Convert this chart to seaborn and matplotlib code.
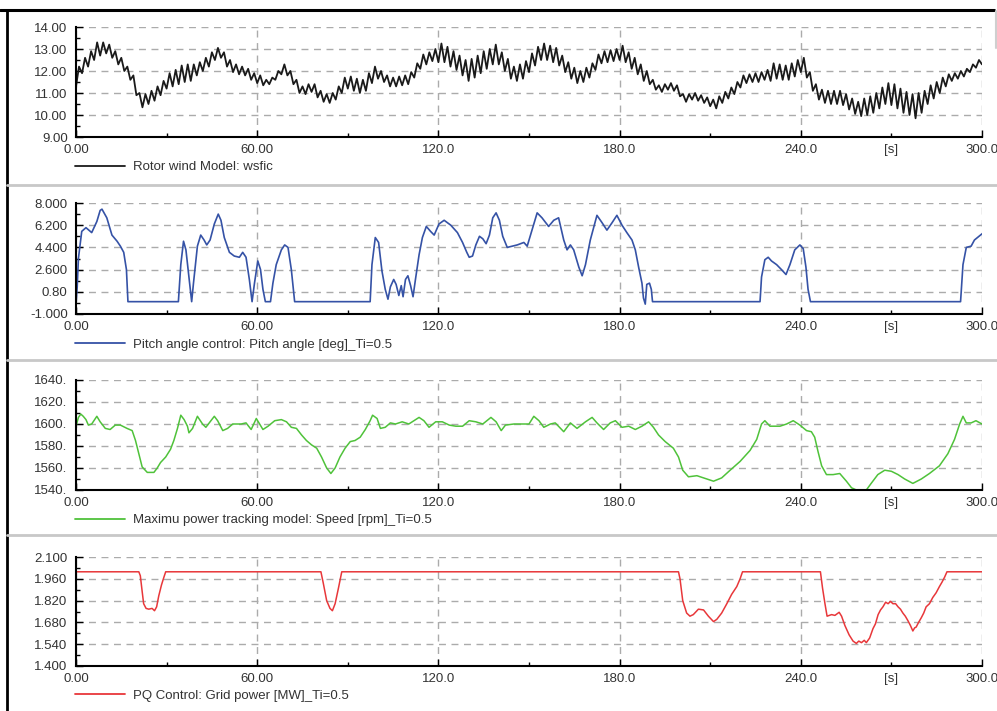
import numpy as np
import pandas as pd
import matplotlib
matplotlib.use("Agg")
import matplotlib.pyplot as plt
import seaborn as sns
from matplotlib.lines import Line2D
from matplotlib.ticker import FixedLocator, FixedFormatter

W, H = 997, 711
sns.set_theme(style="white")
plt.rcParams["font.family"] = ["Liberation Sans", "DejaVu Sans"]

# ---------------- data ----------------
x_ticks = [0, 60, 120, 180, 240, 300]
x_ticklabels = ["0.00", "60.00", "120.0", "180.0", "240.0", "300.0"]
x_minor = [30, 90, 150, 210, 270]
x_minor_labels = ["", "", "", "", "[s]"]

wind_t = np.arange(0, 301, 1)
wind_v = [
    11.3, 12.2, 11.9, 12.6, 12.2, 12.9, 12.5, 13.3, 12.7, 13.3,
    12.8, 13.2, 12.6, 12.9, 12.3, 12.6, 12.0, 12.2, 11.6, 11.8,
    10.9, 11.0, 10.35, 10.95, 10.5, 11.1, 10.65, 11.3, 10.9, 11.55,
    11.2, 11.9, 11.3, 12.05, 11.4, 12.25, 11.5, 12.3, 11.55, 12.3,
    11.8, 12.4, 12.0, 12.6, 12.2, 12.85, 12.5, 13.05, 12.6, 12.85,
    12.2, 12.5, 11.95, 12.3, 11.85, 12.2, 11.8, 12.1, 11.6, 11.9,
    11.45, 11.8, 11.35, 11.6, 11.4, 11.7, 11.6, 12.0, 11.85, 12.3,
    11.8, 12.0, 11.4, 11.6, 11.0, 11.3, 10.95, 11.4, 11.05, 11.4,
    10.8, 11.1, 10.6, 10.95, 10.55, 11.0, 10.7, 11.3, 11.0, 11.7,
    11.2, 11.75, 11.1, 11.65, 11.0, 11.6, 11.1, 11.9, 11.45, 12.2,
    11.65, 12.0, 11.5, 11.8, 11.3, 11.7, 11.3, 11.75, 11.35, 11.8,
    11.4, 11.95, 11.7, 12.35, 12.1, 12.75, 12.3, 12.85, 12.45, 13.0,
    12.4, 13.25, 12.4, 13.1, 12.2, 12.9, 12.05, 12.7, 11.8, 12.5,
    11.55, 12.55, 11.7, 12.7, 11.9, 12.9, 12.1, 13.0, 12.3, 13.2,
    12.3, 12.85, 12.0, 12.55, 11.65, 12.2, 11.55, 12.3, 11.65, 12.45,
    11.95, 12.8, 12.25, 13.1, 12.5, 13.25, 12.5, 13.15, 12.4, 13.05,
    12.25, 12.7, 11.95, 12.4, 11.65, 12.15, 11.45, 12.0, 11.5, 12.15,
    11.7, 12.35, 12.05, 12.75, 12.35, 12.9, 12.4, 12.95, 12.45, 13.0,
    12.5, 13.15, 12.4, 12.85, 12.1, 12.6, 11.85, 12.3, 11.55, 12.0,
    11.4, 11.6, 11.15, 11.35, 11.05, 11.4, 11.15, 11.45, 11.1, 11.35,
    10.85, 10.95, 10.6, 10.95, 10.7, 11.0, 10.65, 10.9, 10.55, 10.8,
    10.4, 10.7, 10.3, 10.85, 10.55, 11.05, 10.75, 11.25, 10.95, 11.5,
    11.25, 11.8, 11.45, 11.85, 11.5, 11.9, 11.5, 11.95, 11.6, 12.05,
    11.55, 12.35, 11.65, 12.3, 11.6, 12.25, 11.6, 12.35, 11.75, 12.5,
    11.95, 12.6, 11.7, 11.95, 11.1, 11.4, 10.7, 11.15, 10.55, 11.1,
    10.5, 11.1, 10.5, 11.1, 10.45, 10.95, 10.25, 10.75, 10.05, 10.6,
    9.95, 10.75, 10.0, 10.85, 10.1, 11.0, 10.3, 11.25, 10.5, 11.45,
    10.45, 11.4, 10.3, 11.2, 10.1, 11.05, 10.0, 10.95, 9.85, 11.0,
    10.1, 11.1, 10.5, 11.35, 10.75, 11.5, 11.0, 11.7, 11.3, 11.85,
    11.55, 11.9, 11.65, 12.0, 11.75, 12.1, 11.95, 12.3, 12.15, 12.5,
    12.3,
]
wind_yticks = [9, 10, 11, 12, 13, 14]
wind_yticklabels = ["9.00", "10.00", "11.00", "12.00", "13.00", "14.00"]

pitch_t = [
    0, 0.4, 0.8, 1.9, 3.3, 5.2, 6.9, 8.0, 8.6, 10.2, 11.9, 13.6, 14.7, 15.8, 16.7, 17.2,
    33.9, 34.7, 35.6, 36.4, 37.4, 38.3, 38.9, 40.2, 41.3, 42.4, 43.3, 44.4, 45.8, 47.1,
    48.0, 49.1, 50.8, 52.4, 54.1, 55.2, 56.3, 57.4, 58.3, 59.1, 60.2, 61.1, 61.9, 62.7,
    64.4, 65.2, 66.3, 68.0, 69.1, 70.2, 71.3, 72.4,
    97.4, 98.0, 99.1, 100.2, 101.3, 102.4, 103.3, 104.1, 105.2, 106.0, 106.9, 107.7,
    108.3, 109.1, 109.9, 110.8, 111.6, 112.4, 113.6, 114.7, 116.0, 117.4, 118.6, 120.2,
    121.9, 124.1, 126.3, 128.0, 129.4, 130.2, 131.3, 132.4, 133.6, 134.7, 135.8, 136.9,
    138.0, 139.1, 140.2, 141.3, 142.8, 144.4, 146.1, 148.3, 149.4, 151.0, 152.7, 154.3,
    156.5, 158.2, 159.8, 161.5, 162.6, 163.7, 164.8, 166.5, 167.6, 168.7, 170.3, 172.5,
    174.2, 175.8, 177.5, 179.1, 180.8, 182.4, 184.1, 185.2, 186.3, 187.4, 187.9, 188.5,
    189.0, 189.9, 190.5, 190.9,
    226.5, 227.0, 228.1, 229.2, 230.3, 232.0, 233.6, 235.1, 236.4, 238.0, 239.7, 240.8,
    241.7, 242.4, 243.2,
    292.9, 293.7, 294.8, 296.4, 297.5, 300.0,
]
pitch_v = [
    -0.2, 1.2, 3.5, 5.7, 6.0, 5.6, 6.5, 7.4, 7.5, 6.8, 5.4, 4.9, 4.5, 4.0, 2.6, 0.0,
    0.0, 3.0, 4.9, 4.2, 2.0, 0.0, 1.5, 4.5, 5.4, 5.0, 4.6, 5.0, 6.3, 7.1,
    6.6, 5.2, 4.0, 3.7, 3.6, 4.0, 3.6, 1.8, 0.0, 1.5, 3.3, 2.6, 1.0, 0.0,
    0.0, 1.5, 3.0, 4.2, 4.6, 4.4, 2.6, 0.0,
    0.0, 3.0, 5.2, 4.8, 2.5, 1.0, 0.2, 1.2, 1.8, 1.4, 0.5, 1.3,
    0.4, 1.8, 2.1, 1.3, 0.4, 1.8, 3.8, 5.2, 6.1, 5.7, 5.4, 6.3,
    6.6, 6.2, 5.6, 4.8, 4.0, 3.6, 3.7, 4.6, 5.3, 5.1, 4.7, 5.4,
    6.8, 7.2, 6.6, 5.3, 4.4, 4.5, 4.6, 4.8, 4.5, 5.8, 7.2, 6.8,
    6.1, 6.6, 6.8, 5.0, 4.2, 4.6, 4.2, 2.8, 2.1, 3.0, 5.0, 7.0,
    6.4, 5.8, 6.4, 7.0, 6.2, 5.6, 5.0, 4.2, 2.8, 1.5, 0.3, -0.2,
    1.4, 1.5, 1.0, 0.0,
    0.0, 2.0, 3.4, 3.6, 3.3, 3.0, 2.6, 2.2, 3.0, 4.2, 4.6, 4.3,
    2.8, 1.0, 0.0,
    0.0, 3.0, 4.4, 4.5, 5.0, 5.5,
]
pitch_yticks = [-1.0, 0.8, 2.6, 4.4, 6.2, 8.0]
pitch_yticklabels = ["-1.000", "0.80", "2.600", "4.400", "6.200", "8.000"]

speed_t = [
    0, 0.8, 1.6, 2.4, 3.3, 4.1, 5.2, 6.9, 8.0, 9.7, 11.3, 13.0, 14.7, 16.9, 18.6, 19.7,
    20.8, 21.9, 23.6, 25.8, 26.9, 28.0, 29.7, 31.3, 32.4, 33.6, 34.7, 35.8, 36.9, 37.4,
    38.6, 40.2, 41.9, 43.0, 44.4, 45.8, 46.9, 48.6, 50.2, 51.9, 54.7, 56.3, 58.0, 59.7,
    60.8, 61.9, 63.6, 65.8, 68.0, 69.7, 71.3, 73.0, 74.7, 76.3, 78.0, 79.7, 81.3, 83.0,
    84.4, 85.8, 87.4, 89.1, 90.8, 92.4, 94.1, 95.8, 97.4, 98.2, 99.7, 100.8, 102.4, 104.1,
    105.8, 108.0, 110.2, 111.9, 113.6, 115.2, 116.9, 119.1, 121.3, 123.6, 125.8, 128.0,
    130.2, 132.4, 134.7, 137.4, 139.1, 140.8, 142.2, 145.0, 148.3, 150.0, 151.6, 153.3,
    154.9, 157.1, 158.7, 161.5, 163.7, 165.9, 168.7, 170.9, 172.5, 174.7, 176.9, 178.6,
    180.8, 183.0, 185.2, 187.4, 189.6, 191.2, 192.9, 195.1, 197.8, 199.5, 200.9, 202.8,
    205.6, 207.8, 211.1, 213.8, 216.6, 219.9, 223.2, 225.4, 227.0, 228.1, 229.8, 233.1,
    235.3, 237.5, 239.7, 241.9, 243.5, 244.6, 245.7, 246.9, 248.5, 250.7, 252.9, 255.1,
    256.8, 258.4, 261.7, 263.3, 265.5, 267.8, 270.0, 272.2, 274.4, 277.1, 279.9, 282.6,
    285.9, 288.7, 290.9, 292.6, 293.7, 294.8, 296.4, 298.0, 300.0,
]
speed_v = [
    1598, 1606, 1609, 1607, 1604, 1599, 1600, 1607, 1602, 1596, 1595, 1599, 1599, 1596, 1594, 1585,
    1573, 1561, 1556, 1556, 1560, 1565, 1570, 1577, 1585, 1596, 1608, 1604, 1598, 1592,
    1596, 1607, 1600, 1597, 1602, 1607, 1603, 1594, 1596, 1600, 1600, 1601, 1595, 1605,
    1600, 1595, 1598, 1603, 1604, 1602, 1597, 1596, 1590, 1585, 1581, 1578, 1570, 1560,
    1555, 1560, 1570, 1578, 1584, 1585, 1588, 1595, 1603, 1608, 1605, 1596, 1597, 1601,
    1600, 1602, 1600, 1603, 1606, 1603, 1597, 1602, 1602, 1599, 1598, 1598,
    1603, 1602, 1600, 1606, 1602, 1594, 1599, 1600, 1600, 1600, 1607, 1603,
    1597, 1600, 1601, 1593, 1601, 1596, 1602, 1606, 1601, 1595, 1601, 1603,
    1597, 1598, 1595, 1598, 1602, 1597, 1590, 1584, 1578, 1570, 1558, 1552,
    1553, 1551, 1548, 1551, 1558, 1566, 1576, 1586, 1600, 1603, 1598, 1598,
    1600, 1603, 1599, 1594, 1593, 1588, 1575, 1562, 1554, 1554, 1555, 1548,
    1542, 1540, 1540, 1546, 1554, 1558, 1557, 1554, 1550, 1546, 1550, 1555,
    1562, 1573, 1586, 1600, 1607, 1601, 1601, 1603, 1600,
]
speed_yticks = [1540, 1560, 1580, 1600, 1620, 1640]
speed_yticklabels = ["1540.", "1560.", "1580.", "1600.", "1620.", "1640."]

power_t = [
    0, 20.8, 21.3, 21.9, 22.4, 23.2, 24.1, 25.2, 26.0, 26.7, 27.4, 28.3, 29.1, 29.7,
    81.1, 81.9, 83.0, 84.1, 84.9, 85.8, 86.9, 88.0,
    199.5, 200.0, 200.9, 202.2, 203.3, 204.4, 206.1, 207.8, 209.4, 211.1, 212.2, 213.8,
    215.5, 217.1, 218.8, 219.9, 220.7,
    246.5, 247.2, 248.0, 248.7, 250.2, 251.3, 252.7, 253.5, 254.6, 256.0, 257.3, 258.4,
    259.2, 260.1, 261.0, 261.7, 262.8, 263.9, 264.7, 265.6, 266.4, 267.2, 268.1, 268.9,
    269.7, 270.5, 271.4, 272.2, 273.0, 273.8, 274.6, 275.5, 276.3, 277.1, 277.7, 278.2,
    279.0, 279.9, 280.7, 281.5, 282.6, 283.7, 284.8, 285.9, 286.8, 287.6, 288.4, 300.0,
]
power_v = [
    2.005, 2.005, 1.98, 1.88, 1.80, 1.77, 1.765, 1.77, 1.755, 1.78, 1.85, 1.92, 1.97, 2.005,
    2.005, 1.93, 1.82, 1.77, 1.755, 1.80, 1.90, 2.005,
    2.005, 1.96, 1.82, 1.74, 1.72, 1.73, 1.765, 1.76, 1.72, 1.685, 1.70, 1.74,
    1.80, 1.86, 1.91, 1.96, 2.005,
    2.005, 1.90, 1.80, 1.72, 1.73, 1.725, 1.745, 1.72, 1.66, 1.60, 1.56, 1.545,
    1.56, 1.55, 1.565, 1.55, 1.58, 1.64, 1.67, 1.73, 1.76, 1.78, 1.81, 1.80,
    1.815, 1.80, 1.80, 1.78, 1.765, 1.74, 1.72, 1.69, 1.66, 1.625, 1.645, 1.65,
    1.68, 1.71, 1.74, 1.78, 1.80, 1.84, 1.87, 1.91, 1.94, 1.97, 2.005, 2.005,
]
power_yticks = [1.4, 1.54, 1.68, 1.82, 1.96, 2.1]
power_yticklabels = ["1.400", "1.540", "1.680", "1.820", "1.960", "2.100"]

labels = [
    "Rotor wind Model: wsfic",
    "Pitch angle control: Pitch angle [deg]_Ti=0.5",
    "Maximu power tracking model: Speed [rpm]_Ti=0.5",
    "PQ Control: Grid power [MW]_Ti=0.5",
]
colors = ["#1a1a1a", "#3552a6", "#4fc23a", "#e8373a"]

assert len(wind_v) == len(wind_t)
assert len(pitch_t) == len(pitch_v), (len(pitch_t), len(pitch_v))
assert len(speed_t) == len(speed_v), (len(speed_t), len(speed_v))
assert len(power_t) == len(power_v), (len(power_t), len(power_v))

# ---------------- figure ----------------
fig = plt.figure(figsize=(W / 100, H / 100), dpi=100)
fig.patch.set_facecolor("white")

def fx(px):
    return px / W

def fy(py):
    return 1 - py / H

AX_L, AX_R = 76, 982
panels = [
    dict(top=27, bot=137, t=wind_t, v=wind_v, yt=wind_yticks, ytl=wind_yticklabels, lw=1.3),
    dict(top=203, bot=314, t=pitch_t, v=pitch_v, yt=pitch_yticks, ytl=pitch_yticklabels, lw=1.2),
    dict(top=380, bot=490, t=speed_t, v=speed_v, yt=speed_yticks, ytl=speed_yticklabels, lw=1.1),
    dict(top=557, bot=666, t=power_t, v=power_v, yt=power_yticks, ytl=power_yticklabels, lw=1.1),
]

TXT = "#333333"
FS = 9.5
for i, p in enumerate(panels):
    ax = fig.add_axes([fx(AX_L), fy(p["bot"]), fx(AX_R) - fx(AX_L), (p["bot"] - p["top"]) / H])
    ax.set_facecolor("white")
    df = pd.DataFrame({"t": p["t"], "v": p["v"]})
    sns.lineplot(data=df, x="t", y="v", ax=ax, color=colors[i], lw=p["lw"],
                 estimator=None, sort=False, label=labels[i])
    ax.set_xlim(0, 300)
    ax.set_ylim(p["yt"][0], p["yt"][-1])
    ax.set_xlabel("")
    ax.set_ylabel("")
    ax.xaxis.set_major_locator(FixedLocator(x_ticks))
    ax.xaxis.set_major_formatter(FixedFormatter(x_ticklabels))
    ax.xaxis.set_minor_locator(FixedLocator(x_minor))
    ax.xaxis.set_minor_formatter(FixedFormatter(x_minor_labels))
    ax.yaxis.set_major_locator(FixedLocator(p["yt"]))
    ax.yaxis.set_major_formatter(FixedFormatter(p["ytl"]))
    mids = [(a + b) / 2 for a, b in zip(p["yt"][:-1], p["yt"][1:])]
    ax.yaxis.set_minor_locator(FixedLocator(mids))
    ax.tick_params(axis="x", which="both", direction="in", colors="black",
                   labelcolor=TXT, labelsize=FS, pad=5, bottom=True)
    ax.tick_params(axis="x", which="major", length=5, width=1)
    ax.tick_params(axis="x", which="minor", length=3, width=1)
    ax.tick_params(axis="y", which="both", direction="in", colors="black",
                   labelcolor=TXT, labelsize=FS, pad=6, left=True)
    ax.tick_params(axis="y", which="major", length=5, width=1)
    ax.tick_params(axis="y", which="minor", length=3, width=1)
    ax.grid(True, which="major", color="#ababab", linestyle=(0, (5, 4)), linewidth=1.0)
    ax.set_axisbelow(True)
    for s in ["top", "right"]:
        ax.spines[s].set_visible(False)
    for s in ["left", "bottom"]:
        ax.spines[s].set_color("black")
        ax.spines[s].set_linewidth(1.5)
    leg = ax.legend(loc="center left", bbox_to_anchor=(-0.001, -0.275), frameon=False,
                    handlelength=3.8, handletextpad=0.6, borderpad=0, borderaxespad=0,
                    fontsize=FS)
    for txt in leg.get_texts():
        txt.set_color(TXT)
    for ln in leg.get_lines():
        ln.set_linewidth(1.3)

# window frame lines
fig.add_artist(Line2D([fx(0), fx(994)], [fy(10), fy(10)], color="black", lw=2.2,
                      transform=fig.transFigure))
fig.add_artist(Line2D([fx(6.5), fx(6.5)], [fy(10), fy(711)], color="black", lw=2.0,
                      transform=fig.transFigure))
for sep in [185, 360, 535]:
    fig.add_artist(Line2D([fx(7), fx(997)], [fy(sep), fy(sep)], color="#c8c8c8", lw=2.0,
                          transform=fig.transFigure))
fig.add_artist(Line2D([fx(996), fx(996)], [fy(11), fy(48)], color="#cfcfcf", lw=1.5,
                      transform=fig.transFigure))

fig.savefig("out.png", dpi=100, facecolor="white")
